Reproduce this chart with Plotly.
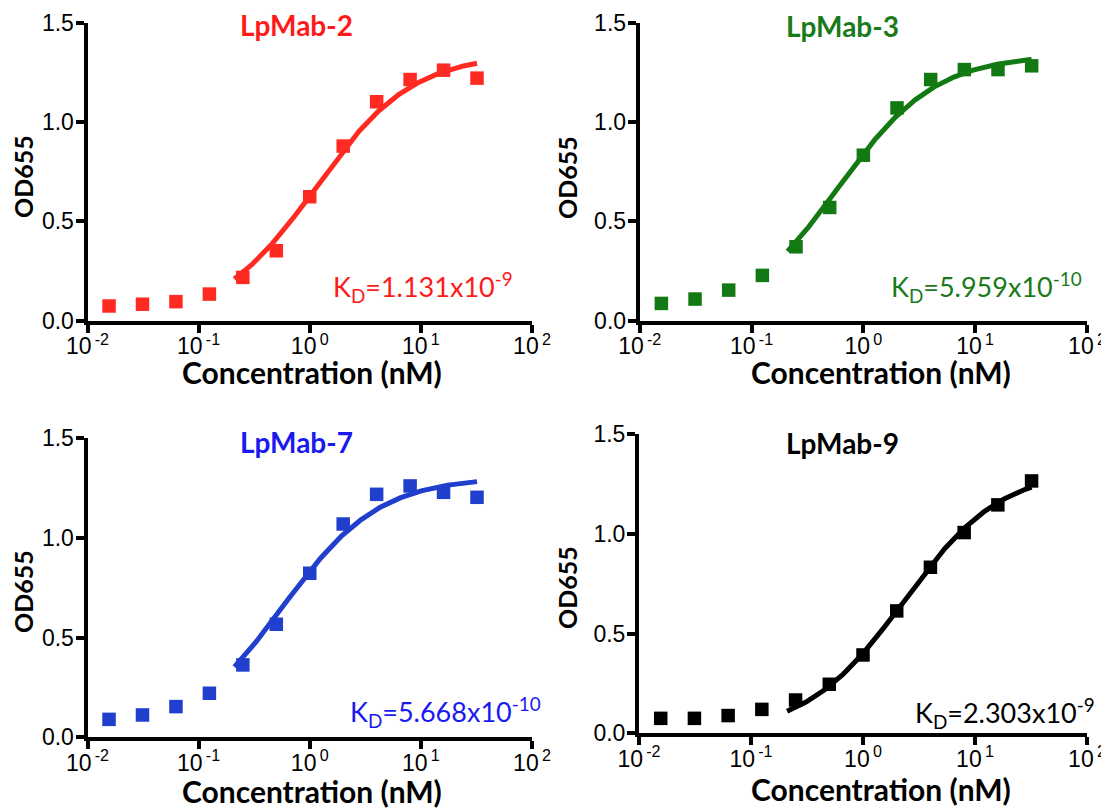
import numpy as np
import plotly.graph_objects as go

conc = [0.015625, 0.03125, 0.0625, 0.125, 0.25, 0.5, 1, 2, 4, 8, 16, 32]
names = ["LpMab-2", "LpMab-3", "LpMab-7", "LpMab-9"]
od_lpmab2 = [0.074, 0.083, 0.096, 0.134, 0.218, 0.352, 0.624, 0.879, 1.102, 1.214, 1.261, 1.221]
od_lpmab3 = [0.087, 0.109, 0.154, 0.228, 0.372, 0.570, 0.833, 1.071, 1.214, 1.264, 1.264, 1.283]
od_lpmab7 = [0.090, 0.112, 0.154, 0.221, 0.363, 0.567, 0.823, 1.070, 1.219, 1.261, 1.229, 1.204]
od_lpmab9 = [0.075, 0.075, 0.089, 0.120, 0.167, 0.246, 0.393, 0.614, 0.833, 1.007, 1.146, 1.266]
kd_nm = [1.131, 0.5959, 0.5668, 2.303]
kd_text = ["1.131x10<sup>-9</sup>", "5.959x10<sup>-10</sup>", "5.668x10<sup>-10</sup>", "2.303x10<sup>-9</sup>"]
x_tickvals = [0.01, 0.1, 1, 10, 100]
x_ticktext = ["10<sup>\u2009-2</sup>", "10<sup>\u2009-1</sup>", "10<sup>\u20090</sup>", "10<sup>\u20091</sup>", "10<sup>\u20092</sup>"]
y_tickvals = [0.0, 0.5, 1.0, 1.5]
y_ticktext = ["0.0", "0.5", "1.0", "1.5"]

series = [od_lpmab2, od_lpmab3, od_lpmab7, od_lpmab9]
mark_colors = ["#FF2B22", "#137A13", "#1F3FCC", "#000000"]
title_colors = ["#FF1A1A", "#1A7A1A", "#1A1AF0", "#000000"]

# page body has an 8px margin, so the figure is shrunk by that amount
OFF = 8
W, H = 1109 - OFF, 809 - OFF
# pixel boxes of the plotting areas in window pixels (left, right, top, bottom)
boxes = [(87.5, 532.0, 22.7, 320.7), (639.7, 1087.0, 22.7, 320.7),
         (87.5, 532.0, 438.3, 737.3), (639.0, 1087.0, 434.3, 733.3)]
title_pos = [(296, 25), (842, 26), (296, 442), (842, 443)]
kd_pos = [(515, 287), (1084, 287), (543, 712), (1097, 713)]
xlab_pos = [(312, 372), (881, 372), (312, 791), (881, 789)]
ylab_pos = [(23, 177), (567, 177), (23, 592), (567, 587)]

fig = go.Figure()
TICKFONT = dict(family="Liberation Sans, Arial", size=23, color="black")
LBL = "Lato, Open Sans"


def px(xp, yp):
    return (xp - OFF) / W, 1 - (yp - OFF) / H


for i in range(4):
    l, r, t, b = boxes[i]
    x0, y0 = px(l, b)
    x1, y1 = px(r, t)
    xa = "x" if i == 0 else f"x{i+1}"
    ya = "y" if i == 0 else f"y{i+1}"
    xkey = "xaxis" if i == 0 else f"xaxis{i+1}"
    ykey = "yaxis" if i == 0 else f"yaxis{i+1}"

    # one-site binding fit with given KD, Bmax by least squares over fitted points
    xs = np.array(conc)
    ys = np.array(series[i])
    m = xs >= 0.25
    f = xs[m] / (kd_nm[i] + xs[m])
    bmax = float(np.sum(ys[m] * f) / np.sum(f * f))
    xc = np.logspace(np.log10(0.21), np.log10(32), 200)
    yc = bmax * xc / (kd_nm[i] + xc)

    fig.add_trace(go.Scatter(x=conc, y=series[i], mode="markers", xaxis=xa, yaxis=ya,
                             marker=dict(symbol="square", size=13.5, color=mark_colors[i]),
                             showlegend=False, cliponaxis=False))
    fig.add_trace(go.Scatter(x=xc, y=yc, mode="lines", xaxis=xa, yaxis=ya,
                             line=dict(color=mark_colors[i], width=5),
                             showlegend=False))

    fig.layout[xkey] = dict(domain=[x0, x1], type="log", range=[-2, 2], anchor=ya,
                            tickvals=x_tickvals, ticktext=x_ticktext, automargin=False,
                            showline=True, linecolor="black", linewidth=4,
                            ticks="outside", ticklen=8, tickwidth=3.5, tickcolor="black",
                            ticklabelstandoff=-6, ticklabeloverflow="allow",
                            showgrid=False, zeroline=False, tickfont=TICKFONT)
    fig.layout[ykey] = dict(domain=[y0, y1], range=[0, 1.5], anchor=xa,
                            tickvals=y_tickvals, ticktext=y_ticktext, automargin=False,
                            showline=True, linecolor="black", linewidth=4,
                            ticks="outside", ticklen=8, tickwidth=3.5, tickcolor="black",
                            ticklabelstandoff=-3, ticklabeloverflow="allow",
                            showgrid=False, zeroline=False, tickfont=TICKFONT)

    tx, ty = px(*title_pos[i])
    fig.add_annotation(text=f"<b>{names[i]}</b>", xref="paper", yref="paper",
                       x=tx, y=ty, showarrow=False,
                       font=dict(family=LBL, size=28, color=title_colors[i]),
                       xanchor="center", yanchor="middle")
    kx, ky = px(*kd_pos[i])
    fig.add_annotation(text=f"K<sub>D</sub>={kd_text[i]}", xref="paper", yref="paper",
                       x=kx, y=ky, showarrow=False,
                       font=dict(family=LBL, size=27, color=title_colors[i]),
                       xanchor="right", yanchor="middle")
    lx, ly = px(*ylab_pos[i])
    fig.add_annotation(text="<b>OD655</b>", xref="paper", yref="paper",
                       x=lx, y=ly, showarrow=False, textangle=-90,
                       font=dict(family=LBL, size=25, color="black"),
                       xanchor="center", yanchor="middle")
    cx, cy = px(*xlab_pos[i])
    fig.add_annotation(text="<b>Concentration (nM)</b>", xref="paper", yref="paper",
                       x=cx, y=cy, showarrow=False,
                       font=dict(family=LBL, size=30, color="black"),
                       xanchor="center", yanchor="middle")

fig.update_layout(width=W, height=H, margin=dict(l=0, r=0, t=0, b=0),
                  plot_bgcolor="white", paper_bgcolor="white")
fig.write_html("out.html")
